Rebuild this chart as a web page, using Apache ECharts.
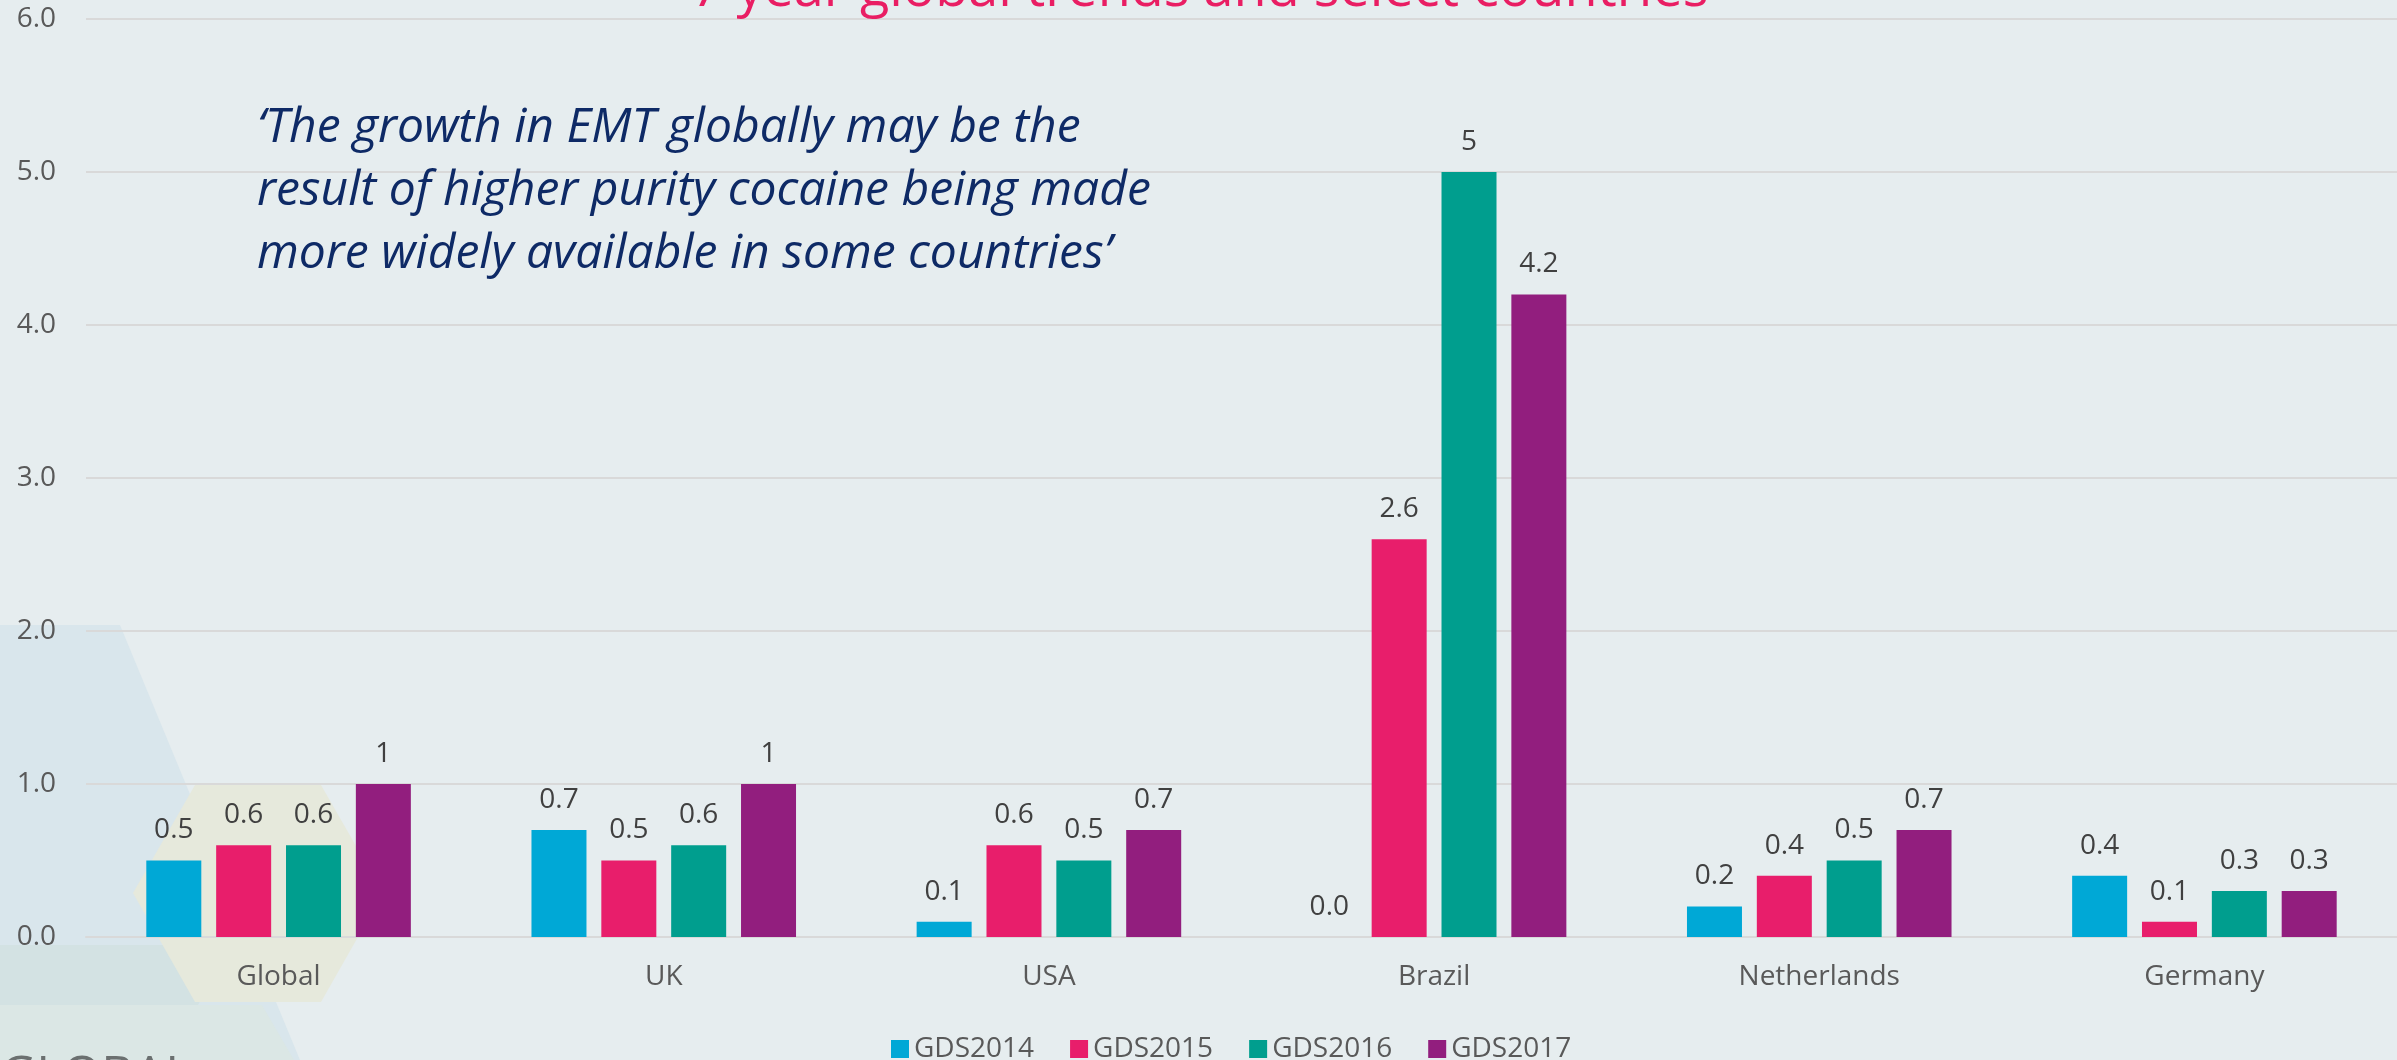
<!DOCTYPE html>
<html>
<head>
<meta charset="utf-8">
<title>EMT 7 year global trends</title>
<script src="https://cdn.jsdelivr.net/npm/echarts@6/dist/echarts.min.js"></script>
<style>
  html, body { margin: 0; padding: 0; background: #e6edef; }
  #main { width: 2397px; height: 1060px; }
</style>
</head>
<body>
<div id="main"></div>
<script>
// categories and values
var countries = ['Global', 'UK', 'USA', 'Brazil', 'Netherlands', 'Germany'];
var seriesNames = ['GDS2014', 'GDS2015', 'GDS2016', 'GDS2017'];
var gds2014 = [0.5, 0.7, 0.1, 0.0, 0.2, 0.4];
var gds2015 = [0.6, 0.5, 0.6, 2.6, 0.4, 0.1];
var gds2016 = [0.6, 0.6, 0.5, 5, 0.5, 0.3];
var gds2017 = [1, 1, 0.7, 4.2, 0.7, 0.3];
var yTicks = [0, 1, 2, 3, 4, 5, 6];
var colors = ['#00a8d6', '#e81e6b', '#009e8e', '#921e7e'];

var titleText = '7 year global trends and select countries';
var quoteText = '\u2018The growth in EMT globally may be the\nresult of higher purity cocaine being made\nmore widely available in some countries\u2019';

var font = '"Open Sans", "Noto Sans", sans-serif';

var myChart = echarts.init(document.getElementById('main'));

function makeSeries(name, data, i) {
    return {
        name: name,
        type: 'bar',
        data: data,
        barWidth: 55,
        barGap: '27%',
        itemStyle: { color: colors[i] },
        label: {
            show: true,
            position: 'top',
            distance: 16,
            fontFamily: font,
            fontSize: 28,
            color: '#404040',
            formatter: function (p) {
                return p.value === 0 ? '0.0' : String(p.value);
            }
        }
    };
}

var allData = [gds2014, gds2015, gds2016, gds2017];
var series = [];
for (var i = 0; i < seriesNames.length; i++) {
    series.push(makeSeries(seriesNames[i], allData[i], i));
}

// faint slide decorations in the lower left
var deco = [
    { type: 'polygon', z: -10, shape: { points: [[0, 625], [120, 625], [300, 1060], [0, 1060]] }, style: { fill: '#d9e6ec' } },
    { type: 'polygon', z: -9, shape: { points: [[0, 945], [230, 945], [198, 1005], [0, 1005]] }, style: { fill: '#d3e2e3' } },
    { type: 'polygon', z: -9, shape: { points: [[0, 1005], [262, 1005], [294, 1060], [0, 1060]] }, style: { fill: '#dbe7e5' } },
    { type: 'polygon', z: -8, shape: { points: [[133, 893], [195, 785], [321, 785], [383, 893], [321, 1002], [195, 1002]] }, style: { fill: '#e6e9dc' } },
    { type: 'text', z: -7, x: 0, y: 1052, style: { text: 'GLOBAL', fontFamily: font, fontSize: 50, fill: '#6b7070', verticalAlign: 'top' } }
];

var option = {
    backgroundColor: '#e6edef',
    animation: false,
    color: colors,
    grid: { left: 86, right: -11, top: 19, bottom: 123 },
    legend: {
        data: seriesNames,
        left: 886,
        top: 1030,
        icon: 'rect',
        itemWidth: 18,
        itemHeight: 18,
        itemGap: 36,
        textStyle: { fontFamily: font, fontSize: 28, color: '#595959' }
    },
    xAxis: {
        type: 'category',
        data: countries,
        axisLine: { show: true, lineStyle: { color: '#d9d9d9', width: 2 } },
        axisTick: { show: false },
        axisLabel: { fontFamily: font, fontSize: 28, color: '#595959', margin: 26 }
    },
    yAxis: {
        type: 'value',
        min: yTicks[0],
        max: yTicks[yTicks.length - 1],
        interval: 1,
        axisLine: { show: false },
        axisTick: { show: false },
        axisLabel: {
            fontFamily: font, fontSize: 28, color: '#595959', margin: 30,
            formatter: function (v) { return v.toFixed(1); }
        },
        splitLine: { lineStyle: { color: '#d9d9d9', width: 2 } }
    },
    graphic: deco.concat([
        {
            type: 'text', z: 100, x: 1200, y: -9,
            style: { text: titleText, fontFamily: font, fontSize: 54, fill: '#e91e63', align: 'center', verticalAlign: 'middle' }
        },
        {
            type: 'text', z: 100, x: 257, y: 191,
            style: { text: quoteText, fontFamily: font, fontStyle: 'italic', fontSize: 48, lineHeight: 63, fill: '#0e2a66', align: 'left', verticalAlign: 'middle' }
        }
    ]),
    series: series
};

myChart.setOption(option);
</script>
</body>
</html>
